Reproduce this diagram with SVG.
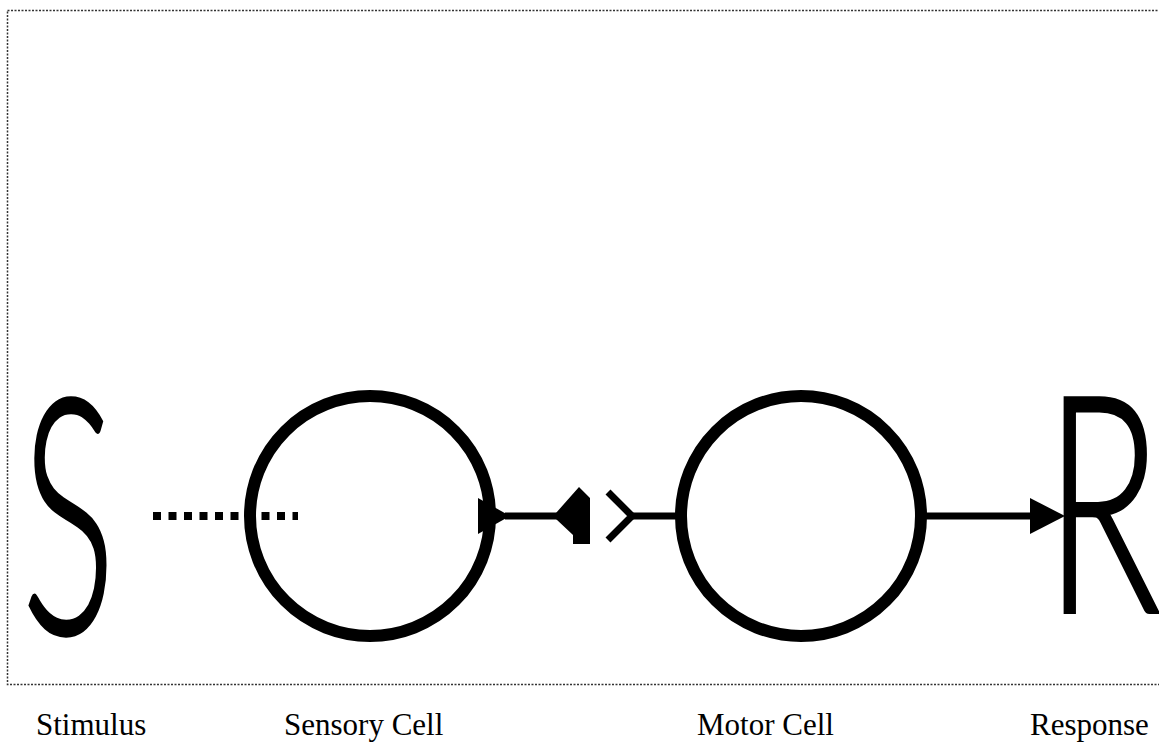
<svg xmlns="http://www.w3.org/2000/svg" width="1159" height="746" viewBox="0 0 1159 746">
<style>
.cell{fill:none;stroke:#000;stroke-width:12}
.big{font-family:"Lato","Liberation Sans",Arial,sans-serif;font-weight:300;fill:#000;stroke:#000;stroke-width:4}
.lbl{font-family:"Liberation Serif","Times New Roman",serif;font-size:31px;fill:#000}
.ln{stroke:#000;stroke-width:7;fill:none}
</style>
<rect x="7.5" y="10.5" width="1165" height="674" fill="none" stroke="#333" stroke-width="1.5" stroke-dasharray="2 1.5"/>
<g id="stimulus">
<text class="big" font-size="328" transform="translate(22,633) scale(0.53,1)">S</text>
<text class="lbl" x="36" y="735">Stimulus</text>
</g>
<g id="sensory-cell">
<circle class="cell" cx="370" cy="516" r="120"/>
<text class="lbl" x="284" y="735">Sensory Cell</text>
</g>
<g id="motor-cell">
<circle class="cell" cx="801" cy="516" r="120"/>
<text class="lbl" x="697" y="735">Motor Cell</text>
</g>
<g id="response">
<text class="big" font-size="302" transform="translate(1045,612) scale(0.63,1)">R</text>
<text class="lbl" x="1030" y="735">Response</text>
</g>
<g id="connectors">
<line x1="153" y1="516" x2="298" y2="516" stroke="#000" stroke-width="8" stroke-dasharray="8 7.5"/>
<polygon points="478,498 510,516 478,534" fill="#000"/>
<line class="ln" x1="505" y1="516" x2="560" y2="516"/>
<polygon points="556,513 579,487 590,498 590,544 573,544 573,535 556,519" fill="#000"/>
<polyline class="ln" points="608,492 632,516 608,540"/>
<line class="ln" x1="630" y1="516" x2="676" y2="516"/>
<line class="ln" x1="925" y1="516" x2="1032" y2="516"/>
<polygon points="1030,498 1065,516 1030,534" fill="#000"/>
</g>
</svg>
